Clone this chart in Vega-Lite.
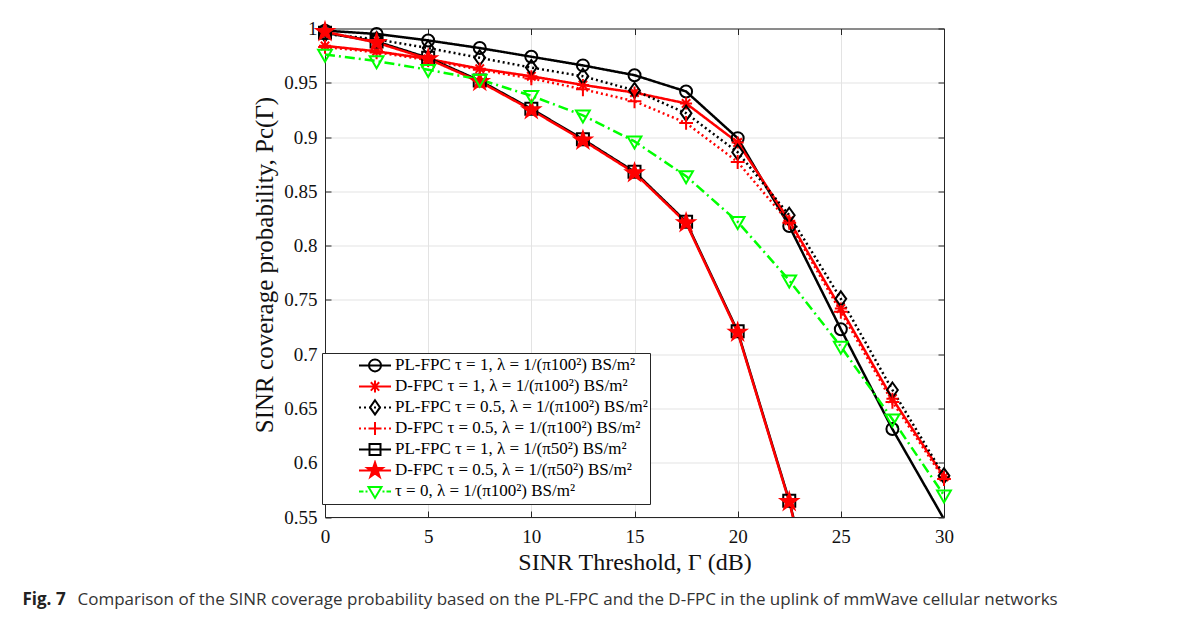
{
  "$schema": "https://vega.github.io/schema/vega-lite/v6.json",
  "width": 619,
  "height": 488.5,
  "autosize": {"type": "none"},
  "padding": {"left": 325, "top": 28.5, "right": 249, "bottom": 102},
  "background": "white",
  "config": {
    "view": {"stroke": null},
    "axis": {
      "labelFont": "Liberation Serif",
      "labelFontSize": 19,
      "labelColor": "#111111",
      "titleFont": "Liberation Serif",
      "titleFontSize": 24,
      "titleFontWeight": "normal",
      "titleColor": "#111111",
      "domainColor": "#262626",
      "domainWidth": 1,
      "tickColor": "#262626",
      "tickWidth": 1,
      "tickSize": -6,
      "gridColor": "#e3e3e3",
      "gridWidth": 1
    },
    "point": {"strokeWidth": 2, "opacity": 1, "size": 144, "filled": false}
  },
  "data": {
    "values": [
      {"series": "s1", "x": 0, "p": 0.998}, {"series": "s1", "x": 2.5, "p": 0.995}, {"series": "s1", "x": 5, "p": 0.989},
      {"series": "s1", "x": 7.5, "p": 0.982}, {"series": "s1", "x": 10, "p": 0.974}, {"series": "s1", "x": 12.5, "p": 0.966},
      {"series": "s1", "x": 15, "p": 0.957}, {"series": "s1", "x": 17.5, "p": 0.942}, {"series": "s1", "x": 20, "p": 0.899},
      {"series": "s1", "x": 22.5, "p": 0.818}, {"series": "s1", "x": 25, "p": 0.723}, {"series": "s1", "x": 27.5, "p": 0.631},
      {"series": "s1", "x": 30, "p": 0.548},

      {"series": "s2", "x": 0, "p": 0.984}, {"series": "s2", "x": 2.5, "p": 0.979}, {"series": "s2", "x": 5, "p": 0.972},
      {"series": "s2", "x": 7.5, "p": 0.963}, {"series": "s2", "x": 10, "p": 0.956}, {"series": "s2", "x": 12.5, "p": 0.948},
      {"series": "s2", "x": 15, "p": 0.941}, {"series": "s2", "x": 17.5, "p": 0.931}, {"series": "s2", "x": 20, "p": 0.895},
      {"series": "s2", "x": 22.5, "p": 0.823}, {"series": "s2", "x": 25, "p": 0.742}, {"series": "s2", "x": 27.5, "p": 0.659},
      {"series": "s2", "x": 30, "p": 0.587},

      {"series": "s3", "x": 0, "p": 0.995}, {"series": "s3", "x": 2.5, "p": 0.990}, {"series": "s3", "x": 5, "p": 0.982},
      {"series": "s3", "x": 7.5, "p": 0.973}, {"series": "s3", "x": 10, "p": 0.964}, {"series": "s3", "x": 12.5, "p": 0.956},
      {"series": "s3", "x": 15, "p": 0.943}, {"series": "s3", "x": 17.5, "p": 0.922}, {"series": "s3", "x": 20, "p": 0.886},
      {"series": "s3", "x": 22.5, "p": 0.828}, {"series": "s3", "x": 25, "p": 0.751}, {"series": "s3", "x": 27.5, "p": 0.667},
      {"series": "s3", "x": 30, "p": 0.588},

      {"series": "s4", "x": 0, "p": 0.983}, {"series": "s4", "x": 2.5, "p": 0.978}, {"series": "s4", "x": 5, "p": 0.971},
      {"series": "s4", "x": 7.5, "p": 0.962}, {"series": "s4", "x": 10, "p": 0.954}, {"series": "s4", "x": 12.5, "p": 0.944},
      {"series": "s4", "x": 15, "p": 0.933}, {"series": "s4", "x": 17.5, "p": 0.913}, {"series": "s4", "x": 20, "p": 0.877},
      {"series": "s4", "x": 22.5, "p": 0.821}, {"series": "s4", "x": 25, "p": 0.739}, {"series": "s4", "x": 27.5, "p": 0.656},
      {"series": "s4", "x": 30, "p": 0.585},

      {"series": "s5", "x": 0, "p": 0.996}, {"series": "s5", "x": 2.5, "p": 0.988}, {"series": "s5", "x": 5, "p": 0.973},
      {"series": "s5", "x": 7.5, "p": 0.952}, {"series": "s5", "x": 10, "p": 0.926}, {"series": "s5", "x": 12.5, "p": 0.898},
      {"series": "s5", "x": 15, "p": 0.868}, {"series": "s5", "x": 17.5, "p": 0.822}, {"series": "s5", "x": 20, "p": 0.721},
      {"series": "s5", "x": 22.5, "p": 0.565}, {"series": "s5", "x": 25, "p": 0.37},

      {"series": "s6", "x": 0, "p": 0.997}, {"series": "s6", "x": 2.5, "p": 0.987}, {"series": "s6", "x": 5, "p": 0.972},
      {"series": "s6", "x": 7.5, "p": 0.951}, {"series": "s6", "x": 10, "p": 0.925}, {"series": "s6", "x": 12.5, "p": 0.897},
      {"series": "s6", "x": 15, "p": 0.867}, {"series": "s6", "x": 17.5, "p": 0.821}, {"series": "s6", "x": 20, "p": 0.720},
      {"series": "s6", "x": 22.5, "p": 0.564}, {"series": "s6", "x": 25, "p": 0.37},

      {"series": "s7", "x": 0, "p": 0.976}, {"series": "s7", "x": 2.5, "p": 0.970}, {"series": "s7", "x": 5, "p": 0.962},
      {"series": "s7", "x": 7.5, "p": 0.953}, {"series": "s7", "x": 10, "p": 0.938}, {"series": "s7", "x": 12.5, "p": 0.920},
      {"series": "s7", "x": 15, "p": 0.896}, {"series": "s7", "x": 17.5, "p": 0.864}, {"series": "s7", "x": 20, "p": 0.822},
      {"series": "s7", "x": 22.5, "p": 0.768}, {"series": "s7", "x": 25, "p": 0.707}, {"series": "s7", "x": 27.5, "p": 0.640},
      {"series": "s7", "x": 30, "p": 0.570}
    ]
  },
  "layer": [
    {
      "mark": {"type": "line", "strokeWidth": 2.5, "clip": true},
      "encoding": {
        "x": {
          "field": "x", "type": "quantitative",
          "scale": {"domain": [0, 30], "nice": false, "zero": false},
          "axis": {
            "orient": "bottom", "values": [0, 5, 10, 15, 20, 25, 30], "format": "d",
            "grid": true, "labelPadding": 16, "labelFlush": false,
            "title": "SINR Threshold, Γ (dB)", "titlePadding": 4
          }
        },
        "y": {
          "field": "p", "type": "quantitative",
          "scale": {"domain": [0.55, 1], "nice": false, "zero": false},
          "axis": {
            "orient": "left", "values": [0.55, 0.6, 0.65, 0.7, 0.75, 0.8, 0.85, 0.9, 0.95, 1], "format": "~g",
            "grid": true, "labelPadding": 14, "labelFlush": false,
            "title": "SINR coverage probability, Pc(Γ)", "titleFontSize": 25, "titlePadding": 6,
            "titleY": 236
          }
        },
        "color": {
          "field": "series", "type": "nominal",
          "scale": {
            "domain": ["s1", "s2", "s3", "s4", "s5", "s6", "s7"],
            "range": ["#000000", "#ff0000", "#000000", "#ff0000", "#000000", "#ff0000", "#00ff00"]
          },
          "legend": null
        },
        "strokeDash": {
          "field": "series", "type": "nominal",
          "scale": {
            "domain": ["s1", "s2", "s3", "s4", "s5", "s6", "s7"],
            "range": [[1, 0], [1, 0], [2, 3], [2, 3], [1, 0], [1, 0], [10, 4, 2, 4]]
          },
          "legend": null
        }
      }
    },
    {
      "transform": [{"filter": "datum.series === 's1' && datum.p >= 0.55"}],
      "mark": {"type": "point", "shape": "M-1,0A1,1 0 1,1 1,0A1,1 0 1,1 -1,0Z", "stroke": "#000000", "fill": "transparent"},
      "encoding": {
        "x": {
          "field": "x", "type": "quantitative",
          "axis": {
            "orient": "top", "values": [0, 5, 10, 15, 20, 25, 30], "labels": false, "grid": false,
            "title": "Comparison of the SINR coverage probability based on the PL-FPC and the D-FPC in the uplink of mmWave cellular networks",
            "titleFont": "Open Sans", "titleFontSize": 17, "titleFontWeight": "normal", "titleColor": "#333333",
            "titleAngle": 0, "titleAlign": "left", "titleAnchor": "start", "titleBaseline": "alphabetic",
            "titleX": -248, "titleY": 576
          }
        },
        "y": {
          "field": "p", "type": "quantitative",
          "axis": {
            "orient": "right", "values": [0.55, 0.6, 0.65, 0.7, 0.75, 0.8, 0.85, 0.9, 0.95, 1], "labels": false, "grid": false,
            "title": "Fig. 7",
            "titleFont": "Open Sans", "titleFontSize": 17, "titleFontWeight": "bold", "titleColor": "#222222",
            "titleAngle": 0, "titleAlign": "left", "titleAnchor": "start", "titleBaseline": "alphabetic",
            "titleX": -922, "titleY": 576
          }
        }
      }
    },
    {
      "transform": [{"filter": "datum.series === 's2' && datum.p >= 0.55"}],
      "mark": {"type": "point", "shape": "M-1,0H1M0,-1V1M-0.7,-0.7L0.7,0.7M-0.7,0.7L0.7,-0.7", "stroke": "#ff0000", "fill": "transparent"},
      "encoding": {
        "x": {"field": "x", "type": "quantitative", "axis": null},
        "y": {"field": "p", "type": "quantitative", "axis": null}
      }
    },
    {
      "transform": [{"filter": "datum.series === 's3' && datum.p >= 0.55"}],
      "mark": {"type": "point", "shape": "M0,-1.25L0.9,0L0,1.25L-0.9,0Z", "stroke": "#000000", "fill": "transparent"},
      "encoding": {
        "x": {"field": "x", "type": "quantitative", "axis": null},
        "y": {"field": "p", "type": "quantitative", "axis": null}
      }
    },
    {
      "transform": [{"filter": "datum.series === 's4' && datum.p >= 0.55"}],
      "mark": {"type": "point", "shape": "M-1.15,0H1.15M0,-1.15V1.15", "stroke": "#ff0000", "fill": "transparent"},
      "encoding": {
        "x": {"field": "x", "type": "quantitative", "axis": null},
        "y": {"field": "p", "type": "quantitative", "axis": null}
      }
    },
    {
      "transform": [{"filter": "datum.series === 's5' && datum.p >= 0.55"}],
      "mark": {"type": "point", "shape": "M-1,-1H1V1H-1Z", "stroke": "#000000", "fill": "transparent"},
      "encoding": {
        "x": {"field": "x", "type": "quantitative", "axis": null},
        "y": {"field": "p", "type": "quantitative", "axis": null}
      }
    },
    {
      "transform": [{"filter": "datum.series === 's6' && datum.p >= 0.55"}],
      "mark": {"type": "point", "shape": "M0,-1.45L0.326,-0.448L1.379,-0.448L0.526,0.171L0.853,1.173L0,0.554L-0.853,1.173L-0.526,0.171L-1.379,-0.448L-0.326,-0.448Z", "stroke": "#ff0000", "fill": "#ff0000"},
      "encoding": {
        "x": {"field": "x", "type": "quantitative", "axis": null},
        "y": {"field": "p", "type": "quantitative", "axis": null}
      }
    },
    {
      "transform": [{"filter": "datum.series === 's7' && datum.p >= 0.55"}],
      "mark": {"type": "point", "shape": "M-1.15,-0.8H1.15L0,1.2Z", "stroke": "#00ff00", "fill": "transparent"},
      "encoding": {
        "x": {"field": "x", "type": "quantitative", "axis": null},
        "y": {"field": "p", "type": "quantitative", "axis": null}
      }
    },
    {
      "transform": [{"filter": "false"}],
      "mark": {"type": "point", "opacity": 1},
      "encoding": {
        "x": {"field": "x", "type": "quantitative", "axis": null},
        "y": {"field": "p", "type": "quantitative", "axis": null},
        "stroke": {
          "field": "series", "type": "nominal",
          "scale": {
            "domain": ["s1", "s2", "s3", "s4", "s5", "s6", "s7"],
            "range": ["#000000", "#ff0000", "#000000", "#ff0000", "#000000", "#ff0000", "#00ff00"]
          },
          "legend": {"title": null}
        },
        "fill": {
          "field": "series", "type": "nominal",
          "scale": {
            "domain": ["s1", "s2", "s3", "s4", "s5", "s6", "s7"],
            "range": ["transparent", "transparent", "transparent", "transparent", "transparent", "#ff0000", "transparent"]
          },
          "legend": {"title": null}
        },
        "shape": {
          "field": "series", "type": "nominal",
          "scale": {
            "domain": ["s1", "s2", "s3", "s4", "s5", "s6", "s7"],
            "range": [
              "M-1.6,0H1.6M-0.6,0A0.6,0.6 0 1,1 0.6,0A0.6,0.6 0 1,1 -0.6,0Z",
              "M-1.6,0H1.6M0,-0.6V0.6M-0.42,-0.42L0.42,0.42M-0.42,0.42L0.42,-0.42",
              "M-1.6,0H-1.4M-1.1,0H-0.9M-0.6,0H-0.4M0.4,0H0.6M0.9,0H1.1M1.4,0H1.6M-0.1,0H0.1M0,-0.72L0.5,0L0,0.72L-0.5,0Z",
              "M-1.6,0H-1.4M-1.1,0H-0.9M0.9,0H1.1M1.4,0H1.6M-0.65,0H0.65M0,-0.65V0.65",
              "M-1.6,0H1.6M-0.55,-0.55H0.55V0.55H-0.55Z",
              "M-1.6,0H1.6M0,-0.8L0.18,-0.247L0.761,-0.247L0.291,0.094L0.47,0.647L0,0.306L-0.47,0.647L-0.291,0.094L-0.761,-0.247L-0.18,-0.247Z",
              "M-1.6,0H-1.15M-0.95,0H-0.75M0.75,0H0.95M1.15,0H1.6M-0.65,-0.45H0.65L0,0.65Z"
            ]
          },
          "legend": {
            "orient": "none", "legendX": -3, "legendY": 324.5,
            "title": null,
            "fillColor": "white", "strokeColor": "#262626",
            "padding": 2, "rowPadding": 0, "clipHeight": 20.8,
            "symbolSize": 400, "symbolOffset": 40, "labelOffset": 9,
            "symbolStrokeWidth": 2.5, "symbolOpacity": 1,
            "labelFont": "Liberation Serif", "labelFontSize": 17, "labelColor": "#000000", "labelLimit": 400,
            "labelExpr": "{'s1': 'PL-FPC τ = 1, λ = 1/(π100²) BS/m²', 's2': 'D-FPC τ = 1, λ = 1/(π100²) BS/m²', 's3': 'PL-FPC τ = 0.5, λ = 1/(π100²) BS/m²', 's4': 'D-FPC τ = 0.5, λ = 1/(π100²) BS/m²', 's5': 'PL-FPC τ = 1, λ = 1/(π50²) BS/m²', 's6': 'D-FPC τ = 0.5, λ = 1/(π50²) BS/m²', 's7': 'τ = 0, λ = 1/(π100²) BS/m²'}[datum.value]"
          }
        }
      }
    }
  ],
  "resolve": {
    "scale": {"stroke": "independent", "fill": "independent", "shape": "independent"},
    "axis": {"x": "independent", "y": "independent"}
  }
}
